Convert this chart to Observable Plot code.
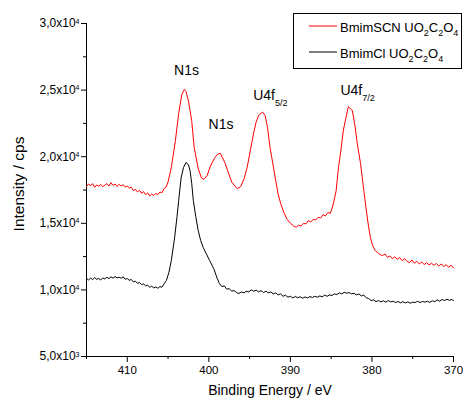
<!DOCTYPE html>
<html><head><meta charset="utf-8">
<script src="https://cdn.jsdelivr.net/npm/d3@7"></script>
<script src="https://cdn.jsdelivr.net/npm/@observablehq/plot@0.6"></script>
<style>
body{margin:0;background:#fff}
#chart{position:relative;width:463px;height:403px}
</style>
</head><body><div id="chart"></div>
<script>
// ---- data ----
const redEnergy = [415.0,414.75,414.5,414.25,414.0,413.75,413.5,413.25,413.0,412.75,412.5,412.25,412.0,411.75,411.5,411.25,411.0,410.75,410.5,410.25,410.0,409.75,409.5,409.25,409.0,408.75,408.5,408.25,408.0,407.75,407.5,407.25,407.0,406.75,406.5,406.25,406.0,405.75,405.5,405.25,405.0,404.6,404.1,403.7,403.3,403.0,402.8,402.5,402.1,401.8,401.3,400.9,400.6,400.2,399.8,399.3,398.9,398.6,398.3,398.0,397.6,397.2,396.8,396.5,396.1,395.7,395.3,394.9,394.5,394.2,393.9,393.4,393.1,392.8,392.5,392.1,391.8,391.5,391.2,390.8,390.4,390.0,389.6,389.3,389.0,388.7,388.4,388.1,387.8,387.5,387.2,386.9,386.6,386.3,386.0,385.7,385.4,385.1,384.8,384.4,384.1,383.8,383.5,383.2,382.9,382.6,382.4,382.1,381.8,381.4,381.1,380.8,380.5,380.2,379.9,379.6,379.3,379.0,378.7,378.4,378.1,377.8,377.5,377.2,376.9,376.6,376.3,376.0,375.7,375.4,375.1,374.8,374.5,374.2,373.9,373.6,373.3,373.0,372.7,372.4,372.1,371.8,371.5,371.2,370.9,370.6,370.3,370.0];
const redIntensity = [17760,17950,17820,17980,17700,17880,17780,17920,17750,17860,17980,17800,18050,17850,17950,17780,17920,17800,17900,17720,17800,17650,17700,17450,17550,17350,17480,17250,17380,17150,17280,17050,17200,17080,17250,17150,17350,17300,17600,17700,18100,19200,21200,23250,24700,25050,24900,24200,22700,20700,19100,18400,18300,18600,19300,19900,20200,20250,19900,19500,18800,18100,17800,17600,17750,18300,19200,20500,21800,22600,23100,23350,23100,22200,20700,19300,18200,17200,16500,15800,15300,15000,14800,14700,14850,14800,15000,14950,15200,15100,15300,15250,15450,15400,15650,15550,15800,15750,16300,17400,19200,20500,22000,22900,23750,23600,23450,22400,21000,19500,18000,16500,15100,13950,13300,12950,12800,12650,12580,12700,12450,12550,12350,12480,12300,12420,12200,12350,12150,12050,12250,12000,12150,11950,12100,11900,12050,11880,12000,11850,11980,11800,11950,11750,11900,11700,11850,11650];

const blackEnergy = [415.0,414.75,414.5,414.25,414.0,413.75,413.5,413.25,413.0,412.75,412.5,412.25,412.0,411.75,411.5,411.25,411.0,410.75,410.5,410.25,410.0,409.75,409.5,409.25,409.0,408.75,408.5,408.25,408.0,407.75,407.5,407.25,407.0,406.75,406.5,406.25,406.0,405.75,405.5,405.2,404.9,404.6,404.2,403.9,403.7,403.4,403.1,402.8,402.5,402.3,402.1,401.9,401.6,401.3,401.0,400.7,400.3,399.9,399.4,399.0,398.7,398.4,398.1,397.8,397.5,397.2,396.9,396.6,396.3,396.0,395.7,395.4,395.1,394.8,394.5,394.2,393.9,393.6,393.3,393.0,392.7,392.4,392.1,391.8,391.5,391.2,390.9,390.6,390.3,390.0,389.7,389.4,389.1,388.8,388.5,388.2,387.9,387.6,387.3,387.0,386.7,386.4,386.1,385.8,385.5,385.2,384.9,384.6,384.3,384.0,383.7,383.4,383.1,382.8,382.5,382.2,381.9,381.6,381.3,381.0,380.7,380.4,380.1,379.8,379.5,379.2,378.9,378.6,378.3,378.0,377.7,377.4,377.1,376.8,376.5,376.2,375.9,375.6,375.3,375.0,374.7,374.4,374.1,373.8,373.5,373.2,372.9,372.6,372.3,372.0,371.7,371.4,371.1,370.8,370.5,370.2,370.0];
const blackIntensity = [10860,10750,10880,10780,10920,10800,10850,10750,10900,10820,10950,10850,10980,10880,11000,10900,10950,10880,10980,10800,10850,10720,10780,10600,10650,10500,10550,10400,10450,10300,10350,10200,10280,10150,10220,10120,10250,10200,10450,10710,11300,12200,13900,15500,16700,18400,19200,19570,19400,18950,18000,16700,15500,14450,13700,13200,12700,12200,11600,10900,10480,10250,10300,10050,10100,9900,9950,9800,9730,9850,9780,9900,9850,10000,9900,9980,9850,9950,9800,9900,9780,9850,9700,9780,9620,9700,9520,9600,9450,9520,9400,9500,9420,9480,9380,9470,9400,9500,9430,9520,9450,9550,9480,9600,9520,9620,9580,9700,9650,9780,9700,9820,9750,9800,9700,9750,9620,9700,9550,9600,9420,9350,9200,9250,9120,9200,9100,9180,9080,9200,9100,9150,9050,9130,9030,9120,9020,9100,9000,9080,9050,9150,9050,9130,9080,9150,9060,9180,9120,9250,9150,9280,9200,9300,9220,9280,9200];

const seriesNames = ["BmimSCN UO2C2O4", "BmimCl UO2C2O4"];
const seriesColors = ["#ff0000", "#000000"];

const xMajor = [410, 400, 390, 380, 370];
const xTickLabels = ["410", "400", "390", "380", "370"];
const xMinor = [415, 405, 395, 385, 375];
const yMajor = [5000, 10000, 15000, 20000, 25000, 30000];
const yTickMantissa = ["5,0", "1,0", "1,5", "2,0", "2,5", "3,0"];
const yTickExponent = ["3", "4", "4", "4", "4", "4"];
const yMinor = [7500, 12500, 17500, 22500, 27500];

const n1sLabels = ["N1s", "N1s"];
const n1sEnergy = [402.74, 398.5];
const n1sIntensity = [26100, 22100];
const u4fLabels = ["U4f", "U4f"];
const u4fSub = ["5/2", "7/2"];
const u4fEnergy = [394.56, 383.86];
const u4fIntensity = [24270, 24600];

// ---- build tables ----
const red = redEnergy.map((e, i) => ({e, v: redIntensity[i]}));
const black = blackEnergy.map((e, i) => ({e, v: blackIntensity[i]}));
const n1s = n1sLabels.map((t, i) => ({t, e: n1sEnergy[i], v: n1sIntensity[i]}));
const u4f = u4fLabels.map((t, i) => ({t, e: u4fEnergy[i], v: u4fIntensity[i]}));

const regular = "'Liberation Sans', Arial, sans-serif";

const chart = Plot.plot({
  width: 463, height: 403,
  marginLeft: 86, marginRight: 10, marginTop: 23, marginBottom: 47,
  style: {fontFamily: regular, fontSize: "12px", background: "white", color: "black", overflow: "visible"},
  x: {domain: [415, 370]},
  y: {domain: [5000, 30000]},
  marks: [
    Plot.axisX({ticks: xMajor, tickSize: 6, tickPadding: 3, label: null,
      tickFormat: d => xTickLabels[xMajor.indexOf(d)], fontSize: 11.5}),
    Plot.axisX({ticks: xMinor, tickSize: 3, label: null, tickFormat: () => ""}),
    Plot.axisY({ticks: yMajor, tickSize: 5, tickPadding: 2, label: null,
      tickFormat: d => yTickMantissa[yMajor.indexOf(d)] + "x10" + yTickExponent[yMajor.indexOf(d)], fontSize: 12}),
    Plot.axisY({ticks: yMinor, tickSize: 3, label: null, tickFormat: () => ""}),
    Plot.ruleY([5000], {stroke: "black"}),
    Plot.ruleX([415], {stroke: "black"}),
    Plot.line(black, {x: "e", y: "v", stroke: seriesColors[1], strokeWidth: 1}),
    Plot.line(red, {x: "e", y: "v", stroke: seriesColors[0], strokeWidth: 1}),
    Plot.text(n1s, {x: "e", y: "v", text: "t", fontSize: 14,
      textAnchor: "middle", lineAnchor: "bottom", fill: "#000"}),
    Plot.text(u4f, {x: "e", y: "v", text: "t", fontSize: 14,
      textAnchor: "start", lineAnchor: "bottom", fill: "#000"}),
    Plot.text(["Binding Energy / eV"], {frameAnchor: "bottom", dy: 34, lineAnchor: "middle",
      textAnchor: "middle", fontSize: 14, fill: "#000"}),
    Plot.text(["Intensity / cps"], {frameAnchor: "left", dx: -67, dy: -6, rotate: -90, lineAnchor: "middle",
      textAnchor: "middle", fontSize: 15.5, fill: "#000"})
  ]
});

const svg = d3.select(chart);

// superscript exponents on y tick labels
svg.selectAll("g[aria-label='y-axis tick label'] text").each(function() {
  const m = this.textContent.match(/^(.*x10)(\d)$/);
  if (!m) return;
  const t = d3.select(this);
  t.text(m[1]);
  t.append("tspan").attr("dy", "-0.55em").attr("font-size", "7px").text(m[2]);
});

// subscripts on the U4f labels
svg.selectAll("text").filter(function() { return this.textContent === "U4f"; })
  .each(function(_, i) {
    d3.select(this).append("tspan").attr("dy", 6).attr("font-size", "9px").text(u4fSub[i]);
  });

// legend
function addFormula(txt, s) {
  let lowered = false;
  for (const p of s.match(/[A-Za-z]+|\d/g)) {
    if (/\d/.test(p)) {
      txt.append("tspan").attr("font-size", 9).attr("dy", lowered ? 0 : 4).text(p);
      lowered = true;
    } else {
      txt.append("tspan").attr("dy", lowered ? -4 : 0).text(p);
      lowered = false;
    }
  }
}
const lg = svg.append("g").attr("font-family", regular).attr("font-size", 13).attr("text-anchor", "start");
lg.append("rect").attr("x", 293.5).attr("y", 13.5).attr("width", 168).attr("height", 55)
  .attr("fill", "white").attr("stroke", "black").attr("stroke-width", 1);
seriesNames.forEach((name, i) => {
  const y = 26 + i * 26;
  lg.append("line").attr("x1", 309).attr("x2", 337).attr("y1", y).attr("y2", y)
    .attr("stroke", seriesColors[i]).attr("stroke-width", 1);
  const txt = lg.append("text").attr("x", 340).attr("y", y + 6).attr("fill", "#000");
  const [word, formula] = name.split(" ");
  txt.append("tspan").text(word + " ");
  addFormula(txt, formula);
});

document.getElementById("chart").appendChild(chart);
</script>
</body></html>
